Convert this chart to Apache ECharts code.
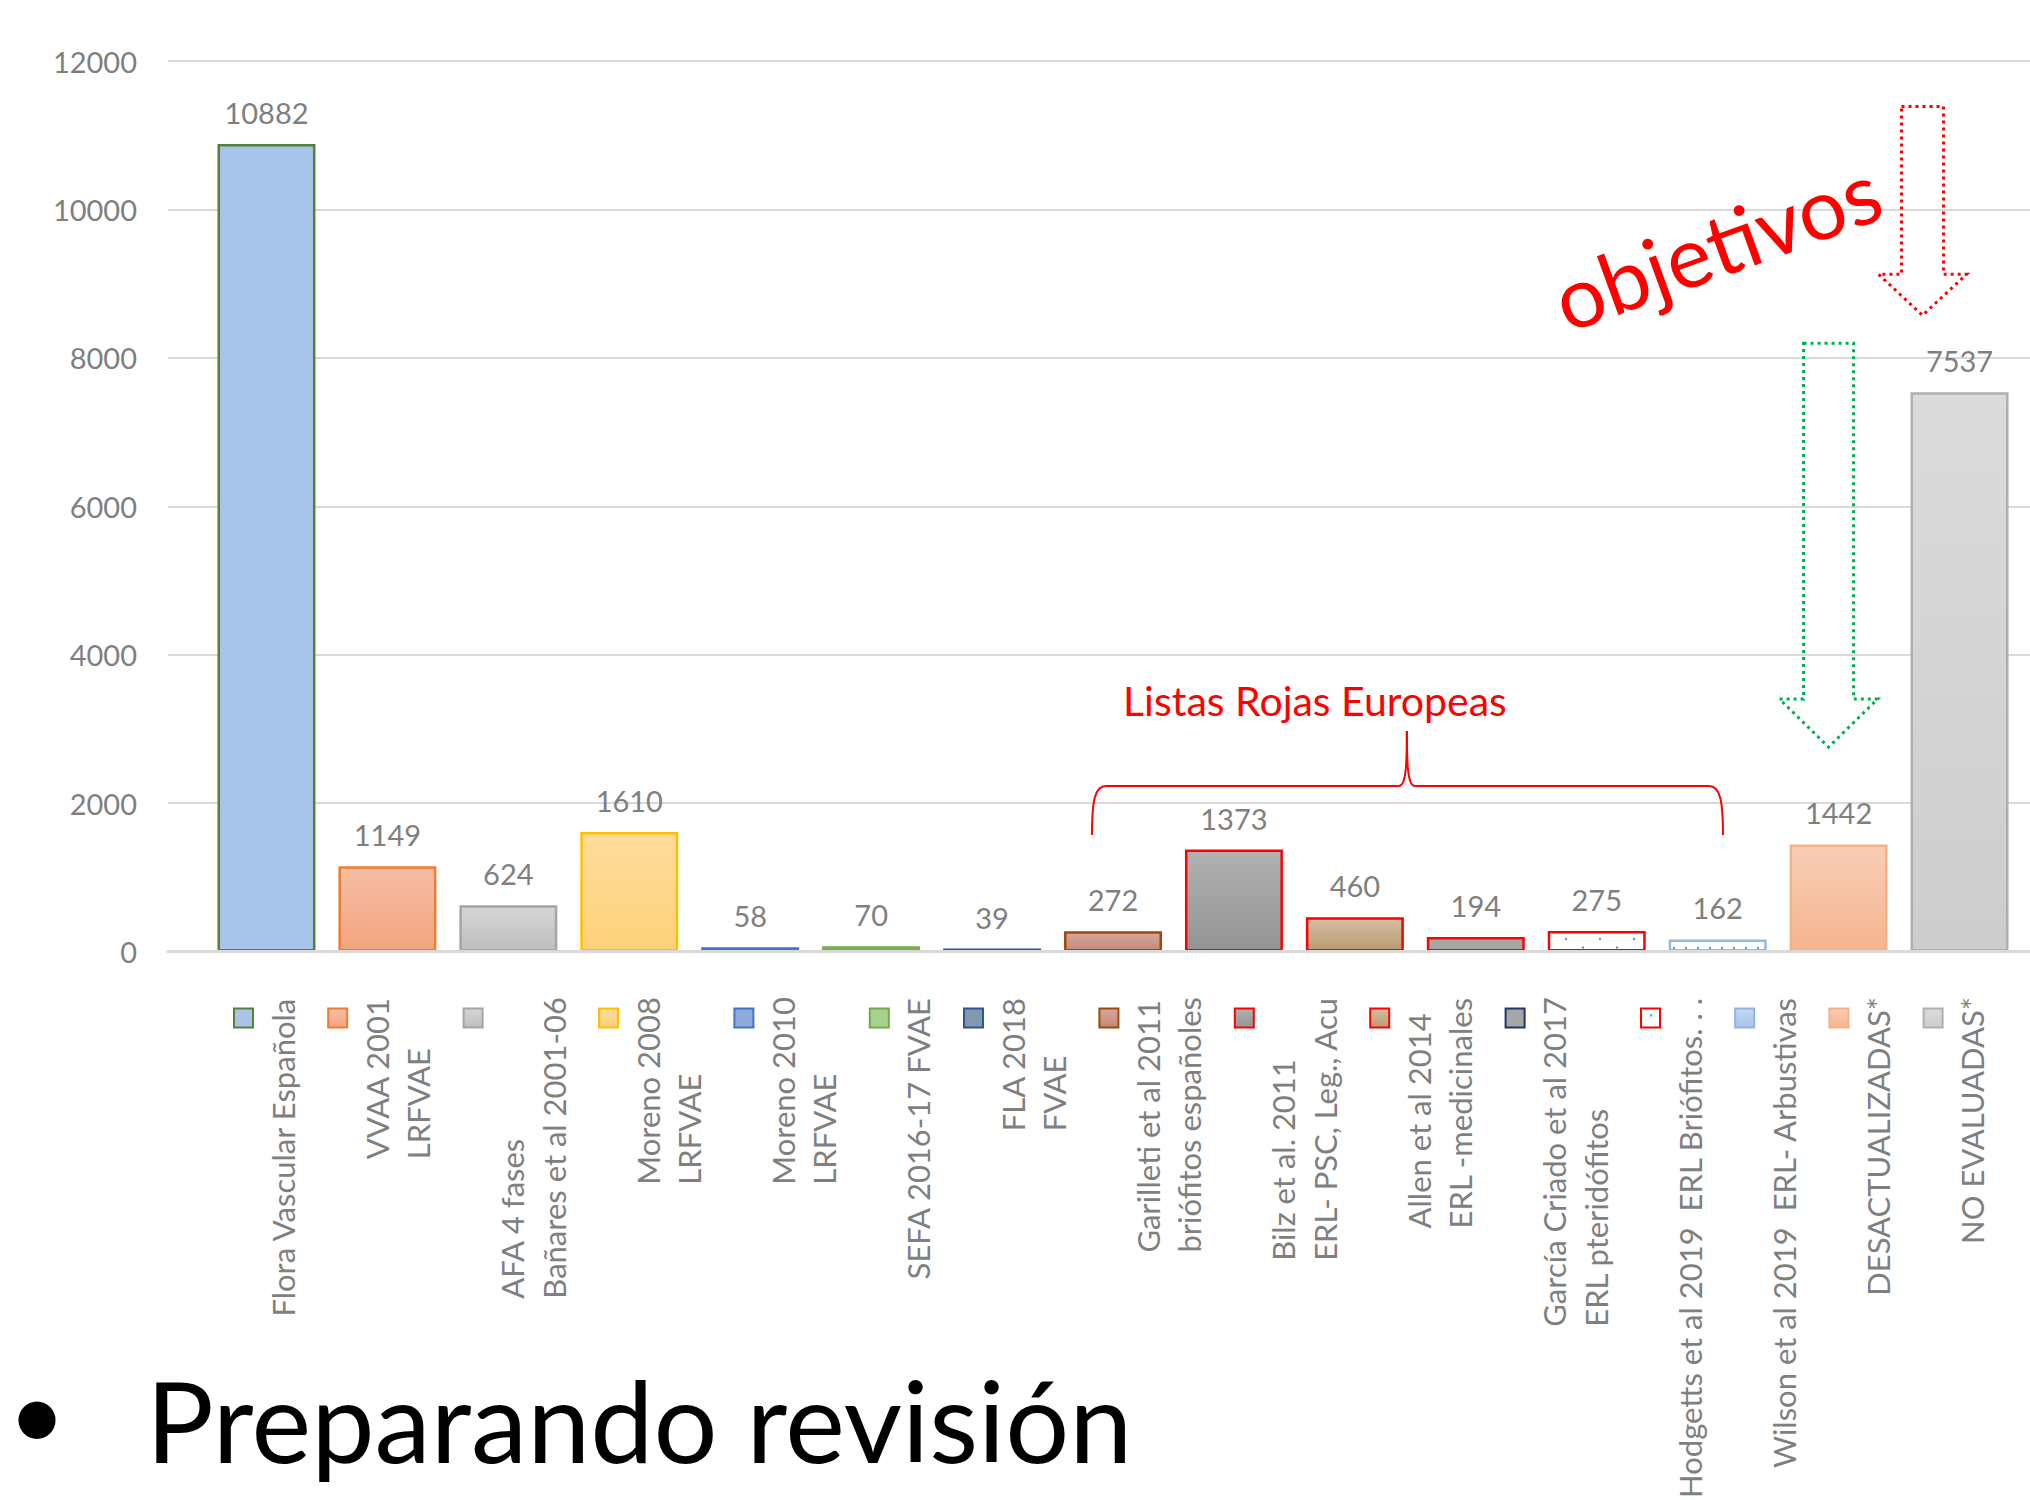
<!DOCTYPE html>
<html>
<head>
<meta charset="utf-8">
<script src="https://cdn.jsdelivr.net/npm/echarts@6/dist/echarts.min.js"></script>
<style>
  html, body { margin: 0; padding: 0; background: #fff; }
  #chart { width: 2030px; height: 1500px; }
</style>
</head>
<body>
<div id="chart"></div>
<script>
// data
const categories = [
  'Flora Vascular Española',
  'VVAA 2001\nLRFVAE',
  'AFA 4 fases\nBañares et al 2001-06',
  'Moreno 2008\nLRFVAE',
  'Moreno 2010\nLRFVAE',
  'SEFA 2016-17 FVAE',
  'FLA 2018\nFVAE',
  'Garilleti et al 2011\nbriófitos españoles',
  'Bilz et al. 2011\nERL- PSC, Leg., Acu',
  'Allen et al 2014\nERL -medicinales',
  'García Criado et al 2017\nERL pteridófitos',
  'Hodgetts et al 2019  ERL Briófitos. . .',
  'Wilson et al 2019  ERL- Arbustivas',
  'DESACTUALIZADAS*',
  'NO EVALUADAS*'
]
const values = [10882, 1149, 624, 1610, 58, 70, 39, 272, 1373, 460, 194, 275, 162, 1442, 7537]
const yMin = 0
const yMax = 12000
const yStep = 2000

// styles, kept apart from the data
const barFills = [
  '#A9C4EA',
  ['#F6BEA6', '#F4A47F'],
  ['#D6D6D6', '#BEBEBE'],
  ['#FFDC9B', '#FED27A'],
  '#8FAADC',
  '#A9D18E',
  '#8497B0',
  ['#D5A79D', '#C3897B'],
  ['#B1B1B1', '#949494'],
  ['#D3BDA2', '#BC9B71'],
  '#A6A6A6',
  'dotsSparse',
  'dotsDense',
  ['#F9CDB6', '#F5B58F'],
  ['#DBDBDB', '#CDCDCD']
]
const barBorders = ['#548235', '#ED7D31', '#A5A5A5', '#FFC000', '#4472C4', '#70AD47', '#2F5597',
  '#9E480E', '#FF0000', '#FF0000', '#FF0000', '#FF0000', '#8FBBE5', '#F4B183', '#AFAFAF']
const legendFills = [null, null, null, null, null, null, null, null, null, null, null, null,
  ['#C3D7EF', '#A9C4EA'], null, null]
const legendBorders = ['#548235', '#ED7D31', '#A5A5A5', '#FFC000', '#4472C4', '#70AD47', '#2F5597',
  '#9E480E', '#FF0000', '#FF0000', '#1F3864', '#FF0000', '#8FB4E3', '#F4B183', '#AFAFAF']

// annotations, in category / value units
const brace = { left: 6.826, right: 12.044, mid: 9.43, end: 1569, bar: 2229, peak: 2970 }
const braceText = { text: 'Listas Rojas Europeas', k: 8.67, v: 3387 }
const goalText = { text: 'objetivos', k: 11.99, v: 9530, angle: 20 }
const arrows = [
  { color: '#FF0000', k: 13.694, top: 11387, headBase: 9125, tip: 8573, shaft: 21, head: 44 },
  { color: '#00B050', k: 12.917, top: 8195, headBase: 3401, tip: 2754, shaft: 25, head: 49 }
]

const grey = '#7F7F7F'
const font = 'Lato'

function dotPattern(w, h, dots, color) {
  const c = document.createElement('canvas')
  c.width = w
  c.height = h
  const g = c.getContext('2d')
  g.fillStyle = '#fff'
  g.fillRect(0, 0, w, h)
  g.fillStyle = color
  dots.forEach(([x, y]) => {
    g.beginPath()
    g.arc(x, y, 1.2, 0, Math.PI * 2)
    g.fill()
  })
  return { image: c.toDataURL(), repeat: 'repeat' }
}

const patterns = {
  dotsSparse: dotPattern(34, 17, [[2, 4], [19, 12.5]], '#5B9BD5'),
  dotsDense: dotPattern(12, 8, [[6, 4]], '#5B9BD5')
}

function fillOf(f) {
  if (Array.isArray(f)) {
    return new echarts.graphic.LinearGradient(0, 0, 0, 1, [
      { offset: 0, color: f[0] },
      { offset: 1, color: f[1] }
    ])
  }
  if (patterns[f]) return patterns[f]
  return f
}

const chart = echarts.init(document.getElementById('chart'), null, { renderer: 'svg' })

chart.setOption({
  animation: false,
  backgroundColor: '#fff',
  grid: [
    { left: 168, right: 0, top: 61, bottom: 548.5 },
    { left: 206, right: 10, top: 61, bottom: 548.5 }
  ],
  xAxis: [
    {
      gridIndex: 0, type: 'value', min: 0, max: 1, z: 5,
      axisLine: { show: true, lineStyle: { color: '#D9D9D9', width: 3 } },
      axisTick: { show: false }, axisLabel: { show: false }, splitLine: { show: false }
    },
    { gridIndex: 1, type: 'category', data: categories, show: false }
  ],
  yAxis: [
    {
      gridIndex: 0, type: 'value', min: yMin, max: yMax, interval: yStep,
      axisLine: { show: false }, axisTick: { show: false },
      axisLabel: { color: grey, fontSize: 29, fontFamily: font, margin: 31, formatter: v => String(v) },
      splitLine: { lineStyle: { color: '#D9D9D9', width: 2 } }
    },
    { gridIndex: 1, type: 'value', min: yMin, max: yMax, interval: yStep, show: false, splitLine: { show: false } }
  ],
  series: [{
    type: 'bar',
    xAxisIndex: 1,
    yAxisIndex: 1,
    barCategoryGap: '19%',
    data: values.map((v, i) => ({
      value: v,
      itemStyle: { color: fillOf(barFills[i]), borderColor: barBorders[i], borderWidth: 2.5 }
    })),
    label: { show: true, position: 'top', distance: 17, color: grey, fontSize: 29, fontFamily: font }
  }]
})

// legend: square + vertical text, laid out like the original legend
const measure = document.createElement('canvas').getContext('2d')
const legendFont = '31px ' + font
measure.font = legendFont
const legendLeft = 234
const legendTop = 997
const squareTop = 1008.5
const square = 19
const linePitch = 41.5
const graphics = []
let lx = legendLeft
categories.forEach((name, i) => {
  const lines = name.split('\n')
  const widest = Math.max(...lines.map(s => measure.measureText(s).width))
  const bottom = legendTop + widest
  graphics.push({
    type: 'rect',
    shape: { x: lx, y: squareTop, width: square, height: square },
    style: { fill: fillOf(legendFills[i] || barFills[i]), stroke: legendBorders[i], lineWidth: 2 }
  })
  lines.forEach((line, j) => {
    graphics.push({
      type: 'text',
      x: lx + 48.5 + linePitch * j,
      y: bottom,
      rotation: Math.PI / 2,
      style: { text: line, font: legendFont, fill: grey, align: 'left', verticalAlign: 'middle' }
    })
  })
  lx += 53 + 41.2 * lines.length
})

// annotations placed through the bar axes
const finder = { xAxisIndex: 1, yAxisIndex: 1 }
function toPx(k, v) {
  const a = chart.convertToPixel(finder, [0, v])
  const b = chart.convertToPixel(finder, [1, v])
  return [a[0] + k * (b[0] - a[0]), a[1]]
}

const red = { stroke: '#FF0000', lineWidth: 2, fill: null }
const [xl, yb] = toPx(brace.left, brace.end)
const [xr] = toPx(brace.right, brace.end)
const [xm, yh] = toPx(brace.mid, brace.bar)
const [, yp] = toPx(brace.mid, brace.peak)
const braceCurves = [
  [xl, yb, xl, yh + 14, xl + 3, yh, xl + 14, yh],
  [xm - 8, yh, xm - 1, yh, xm, yh - 20, xm, yp],
  [xm, yp, xm, yh - 20, xm + 1, yh, xm + 8, yh],
  [xr - 14, yh, xr - 3, yh, xr, yh + 14, xr, yb]
]
braceCurves.forEach(([x1, y1, cpx1, cpy1, cpx2, cpy2, x2, y2]) => {
  graphics.push({ type: 'bezierCurve', shape: { x1, y1, cpx1, cpy1, cpx2, cpy2, x2, y2 }, style: red })
})
graphics.push({ type: 'line', shape: { x1: xl + 14, y1: yh, x2: xm - 8, y2: yh }, style: red })
graphics.push({ type: 'line', shape: { x1: xm + 8, y1: yh, x2: xr - 14, y2: yh }, style: red })

const bt = toPx(braceText.k, braceText.v)
graphics.push({
  type: 'text', x: bt[0], y: bt[1],
  style: { text: braceText.text, font: '41px ' + font, fill: '#FF0000', align: 'center', verticalAlign: 'middle' }
})

const gt = toPx(goalText.k, goalText.v)
graphics.push({
  type: 'text', x: gt[0], y: gt[1], rotation: goalText.angle * Math.PI / 180,
  style: { text: goalText.text, font: '85px ' + font, fill: '#FF0000', align: 'center', verticalAlign: 'middle' }
})

arrows.forEach(a => {
  const [cx, top] = toPx(a.k, a.top)
  const [, hb] = toPx(a.k, a.headBase)
  const [, tip] = toPx(a.k, a.tip)
  graphics.push({
    type: 'polygon',
    shape: {
      points: [
        [cx - a.shaft, top], [cx + a.shaft, top], [cx + a.shaft, hb], [cx + a.head, hb],
        [cx, tip], [cx - a.head, hb], [cx - a.shaft, hb]
      ]
    },
    style: { fill: null, stroke: a.color, lineWidth: 3, lineDash: [3, 4] }
  })
})

// slide bullet text under the chart
graphics.push({
  type: 'text', x: 37, y: 1411,
  style: { text: '•', font: '100px ' + font, fill: '#000', align: 'center', verticalAlign: 'middle' }
})
graphics.push({
  type: 'text', x: 146, y: 1475,
  style: { text: 'Preparando revisión', font: '113px ' + font, fill: '#000', align: 'left', verticalAlign: 'bottom' }
})

chart.setOption({ graphic: graphics })
</script>
</body>
</html>
